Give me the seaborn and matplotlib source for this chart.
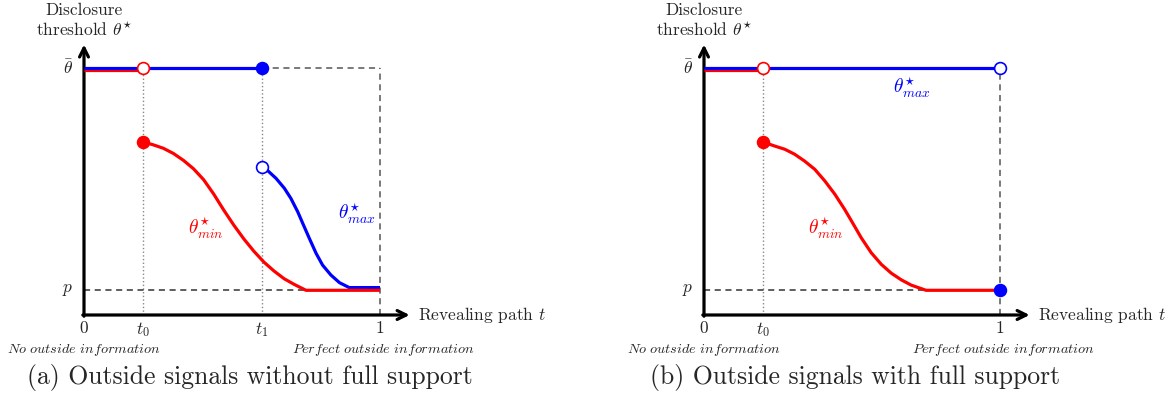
import matplotlib
matplotlib.use("Agg")
import matplotlib.pyplot as plt
import matplotlib.transforms as mtransforms
import pandas as pd
import seaborn as sns

sns.set_style("white")
plt.rcParams["font.family"] = ["cmr10", "DejaVu Serif"]
plt.rcParams["mathtext.fontset"] = "cm"
plt.rcParams["axes.unicode_minus"] = False

# Key levels on both axes
THETA_BAR = 1.0
P_LEVEL = 0.1
T0 = 0.2
T1 = 0.6

# Panel (a): outside signals without full support
a_min_t = [0.0, 0.20]
a_min_top = [THETA_BAR, THETA_BAR]
a_min_curve_t = [0.200, 0.234, 0.268, 0.302, 0.336, 0.370, 0.404, 0.438,
                 0.472, 0.506, 0.540, 0.574, 0.608, 0.642, 0.676, 0.710,
                 0.750, 1.0]
a_min_curve_v = [0.700, 0.689, 0.675, 0.654, 0.626, 0.592, 0.548, 0.490,
                 0.425, 0.364, 0.308, 0.258, 0.214, 0.178, 0.147, 0.124,
                 0.100, 0.100]
a_max_top_t = [0.0, 0.60]
a_max_top_v = [THETA_BAR, THETA_BAR]
a_max_curve_t = [0.600, 0.621, 0.649, 0.677, 0.699, 0.722, 0.739, 0.761,
                 0.784, 0.806, 0.834, 0.863, 0.896, 1.0]
a_max_curve_v = [0.600, 0.584, 0.553, 0.513, 0.472, 0.418, 0.371, 0.311,
                 0.250, 0.202, 0.162, 0.131, 0.111, 0.111]

# Panel (b): outside signals with full support
b_min_curve_t = [0.200, 0.239, 0.273, 0.306, 0.340, 0.374, 0.408, 0.442,
                 0.475, 0.503, 0.531, 0.565, 0.599, 0.633, 0.667, 0.700,
                 0.750, 1.0]
b_min_curve_v = [0.700, 0.684, 0.671, 0.651, 0.623, 0.590, 0.543, 0.489,
                 0.428, 0.371, 0.313, 0.252, 0.205, 0.169, 0.142, 0.121,
                 0.100, 0.100]
b_max_top_t = [0.0, 1.0]
b_max_top_v = [THETA_BAR, THETA_BAR]

RED = "#ff0000"
BLUE = "#0000ff"
LW = 2.3
MS = 8.5

W, H = 1176, 408
fig = plt.figure(figsize=(W / 100, H / 100), dpi=100)


def make_axes(left_px):
    # axes box spans t in [0,1] and theta in [0, theta_bar]
    ax = fig.add_axes([left_px / W, (H - 315) / H, 296 / W, 247 / H])
    ax.set_xlim(0, 1)
    ax.set_ylim(0, 1)
    ax.axis("off")
    return ax


def curve(ax, t, v, color, z=3, transform=None):
    df = pd.DataFrame({"t": t, "v": v})
    kw = {}
    if transform is not None:
        kw["transform"] = transform
    sns.lineplot(data=df, x="t", y="v", ax=ax, color=color, lw=LW,
                 sort=False, estimator=None, clip_on=False, zorder=z,
                 solid_capstyle="butt", solid_joinstyle="round", **kw)


def dot(ax, t, v, color, filled=True, z=6):
    ax.plot([t], [v], "o", ms=MS, mfc=color if filled else "white",
            mec=color, mew=1.2, clip_on=False, zorder=z)


def frame(ax, caption, caption_t, vticks_t):
    # coordinate axes with arrow heads
    ax.annotate("", xy=(1.10, 0), xytext=(-0.004, 0),
                arrowprops=dict(arrowstyle="->", lw=2.3, color="black",
                                mutation_scale=16, shrinkA=0, shrinkB=0),
                annotation_clip=False)
    ax.annotate("", xy=(0, 1.095), xytext=(0, -0.005),
                arrowprops=dict(arrowstyle="->", lw=2.3, color="black",
                                mutation_scale=16, shrinkA=0, shrinkB=0),
                annotation_clip=False)
    fs = 12.5
    ax.text(-0.035, THETA_BAR, r"$\bar{\theta}$", ha="right", va="center",
            fontsize=fs)
    ax.text(-0.035, P_LEVEL, r"$p$", ha="right", va="center", fontsize=fs)
    ax.text(0, -0.022, "0", ha="center", va="top", fontsize=fs)
    ax.text(1, -0.022, "1", ha="center", va="top", fontsize=fs)
    for t, lab in vticks_t:
        ax.text(t, -0.022, lab, ha="center", va="top", fontsize=fs)
    ax.text(1.13, 0.0, r"Revealing path $t$", ha="left", va="center",
            fontsize=fs)
    ax.text(0, 1.19, "Disclosure\n" + r"threshold $\theta^{\star}$",
            ha="center", va="center", fontsize=fs, linespacing=1.2)
    ax.text(0, -0.14, r"$No\ outside\ information$", ha="center",
            va="center", fontsize=10.3)
    ax.text(1.01, -0.14, r"$Perfect\ outside\ information$", ha="center",
            va="center", fontsize=10.3)
    ax.text(caption_t, -0.255, caption, ha="center", va="center",
            fontsize=18.5)


def guide(ax, t, v, style, color, lw):
    ax.plot(t, v, linestyle=style, color=color, lw=lw, clip_on=False,
            zorder=1)


def shifted_down(ax, dots=2.2):
    return ax.transData + mtransforms.ScaledTranslation(
        0, -dots / fig.dpi, fig.dpi_scale_trans)


# ---------- panel (a) ----------
ax_a = make_axes(84)
frame(ax_a, "(a) Outside signals without full support", 0.56,
      [(T0, r"$t_0$"), (T1, r"$t_1$")])
guide(ax_a, [T0, T0], [0, THETA_BAR], ":", "#888888", 1.0)
guide(ax_a, [T1, T1], [0, THETA_BAR], ":", "#888888", 1.0)
guide(ax_a, [T1, 1], [THETA_BAR, THETA_BAR], (0, (4, 3)), "#555555", 1.1)
guide(ax_a, [1, 1], [0, THETA_BAR], (0, (4, 3)), "#555555", 1.1)
guide(ax_a, [0, 0.75], [P_LEVEL, P_LEVEL], (0, (4, 3)), "#333333", 1.1)

curve(ax_a, a_min_t, a_min_top, RED, z=3, transform=shifted_down(ax_a))
curve(ax_a, a_max_top_t, a_max_top_v, BLUE, z=4)
curve(ax_a, a_max_curve_t, a_max_curve_v, BLUE, z=3)
curve(ax_a, a_min_curve_t, a_min_curve_v, RED, z=4)
dot(ax_a, T0, THETA_BAR, RED, filled=False)
dot(ax_a, T1, THETA_BAR, BLUE, filled=True)
dot(ax_a, T0, a_min_curve_v[0], RED, filled=True)
dot(ax_a, T1, a_max_curve_v[0], BLUE, filled=False)
ax_a.text(0.41, 0.35, r"$\theta^{\star}_{min}$", color=RED, fontsize=14,
          ha="center", va="center")
ax_a.text(0.92, 0.41, r"$\theta^{\star}_{max}$", color=BLUE, fontsize=14,
          ha="center", va="center")

# ---------- panel (b) ----------
ax_b = make_axes(704)
frame(ax_b, "(b) Outside signals with full support", 0.51, [(T0, r"$t_0$")])
guide(ax_b, [T0, T0], [0, THETA_BAR], ":", "#888888", 1.0)
guide(ax_b, [1, 1], [0, THETA_BAR], (0, (4, 3)), "#555555", 1.1)
guide(ax_b, [0, 0.75], [P_LEVEL, P_LEVEL], (0, (4, 3)), "#333333", 1.1)

curve(ax_b, a_min_t, a_min_top, RED, z=3, transform=shifted_down(ax_b))
curve(ax_b, b_max_top_t, b_max_top_v, BLUE, z=4)
curve(ax_b, b_min_curve_t, b_min_curve_v, RED, z=4)
dot(ax_b, T0, THETA_BAR, RED, filled=False)
dot(ax_b, 1, THETA_BAR, BLUE, filled=False)
dot(ax_b, T0, b_min_curve_v[0], RED, filled=True)
dot(ax_b, 1, P_LEVEL, BLUE, filled=True)
ax_b.text(0.41, 0.35, r"$\theta^{\star}_{min}$", color=RED, fontsize=14,
          ha="center", va="center")
ax_b.text(0.70, 0.92, r"$\theta^{\star}_{max}$", color=BLUE, fontsize=14,
          ha="center", va="center")

fig.savefig("out.png", dpi=100)
